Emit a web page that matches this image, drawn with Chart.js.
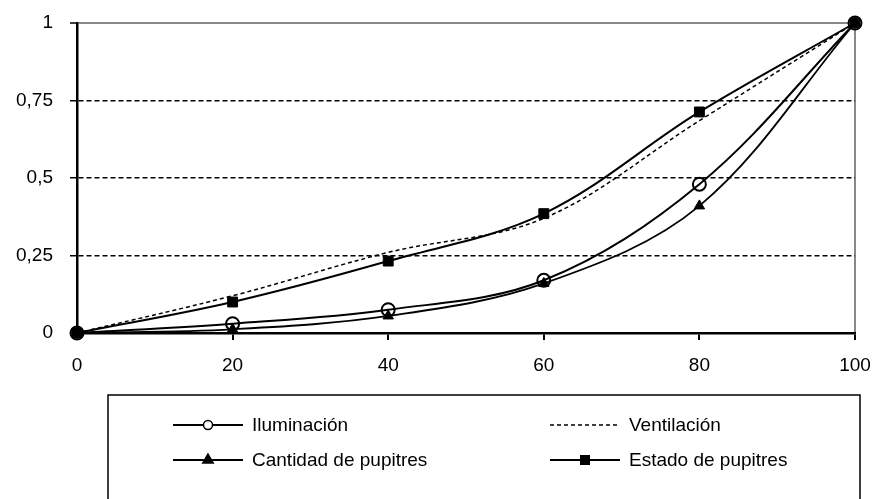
<!DOCTYPE html>
<html>
<head>
<meta charset="utf-8">
<script src="https://cdn.jsdelivr.net/npm/chart.js@4.4.1/dist/chart.umd.min.js"></script>
<style>
  html, body { margin: 0; padding: 0; background: #fff; }
  #wrap { width: 879px; height: 499px; }
</style>
</head>
<body>
<div id="wrap"><canvas id="chart" width="879" height="499"></canvas></div>
<script>
const xValues = [0, 20, 40, 60, 80, 100];
const yTicks = [0, 0.25, 0.5, 0.75, 1];

const iluminacion = [0, 0.03, 0.075, 0.17, 0.48, 1];
const ventilacion = [0, 0.12, 0.26, 0.37, 0.685, 1];
const cantidadPupitres = [0, 0.012, 0.055, 0.16, 0.41, 1];
const estadoPupitres = [0, 0.10, 0.232, 0.385, 0.713, 1];

const seriesNames = ["Iluminación", "Ventilación", "Cantidad de pupitres", "Estado de pupitres"];

function toPoints(arr) {
    return xValues.map((x, i) => ({ x: x, y: arr[i] }));
}

const FONT = "'Liberation Sans', Arial, sans-serif";
const FONT_SIZE = 19;

// legend drawn as a boxed 2x2 grid under the plot
const boxLegend = {
    id: "boxLegend",
    afterDraw(chart) {
        const ctx = chart.ctx;
        const area = chart.chartArea;
        const left = area.left + 31;
        const top = 395;
        const right = area.right + 5;
        ctx.save();
        ctx.strokeStyle = "#000";
        ctx.lineWidth = 1.5;
        ctx.strokeRect(left, top, right - left, 130);

        const cols = [area.left + 96, area.left + 473];
        const rows = [425, 460];
        ctx.font = FONT_SIZE + "px " + FONT;
        ctx.textBaseline = "middle";
        chart.data.datasets.forEach((ds, k) => {
            const x0 = cols[k % 2];
            const y = rows[Math.floor(k / 2)];
            const len = 70;
            ctx.beginPath();
            ctx.setLineDash(ds.borderDash || []);
            ctx.lineWidth = ds.borderWidth;
            ctx.strokeStyle = "#000";
            ctx.moveTo(x0, y);
            ctx.lineTo(x0 + len, y);
            ctx.stroke();
            ctx.setLineDash([]);
            if (ds.pointRadius > 0) {
                ctx.fillStyle = ds.pointStyle === "circle" ? "#fff" : "#000";
                ctx.strokeStyle = "#000";
                ctx.lineWidth = 1.5;
                Chart.helpers.drawPoint(ctx, {
                    pointStyle: ds.pointStyle,
                    rotation: 0,
                    radius: ds.pointStyle === "circle" ? 4.5 : 6,
                    borderWidth: 1.5
                }, x0 + len / 2, y);
            }
            ctx.fillStyle = "#000";
            ctx.fillText(ds.label, x0 + len + 9, y + 1);
        });
        ctx.restore();
    }
};

const chart = new Chart(document.getElementById("chart"), {
    type: "line",
    data: {
        datasets: [
            {
                label: seriesNames[0],
                data: toPoints(iluminacion),
                borderColor: "#000",
                borderWidth: 2,
                pointStyle: "circle",
                pointRadius: 6.5,
                pointBorderWidth: 2,
                pointBackgroundColor: "rgba(255,255,255,0)",
                pointBorderColor: "#000",
                tension: 0.35,
                clip: false,
                order: 0
            },
            {
                label: seriesNames[1],
                data: toPoints(ventilacion),
                borderColor: "#000",
                borderWidth: 1.5,
                borderDash: [4, 3],
                pointRadius: 0,
                tension: 0.35,
                clip: false,
                order: 2
            },
            {
                label: seriesNames[2],
                data: toPoints(cantidadPupitres),
                borderColor: "#000",
                borderWidth: 1.8,
                pointStyle: "triangle",
                pointRadius: 6,
                pointBorderWidth: 1,
                pointBackgroundColor: "#000",
                pointBorderColor: "#000",
                tension: 0.35,
                clip: false,
                order: 2
            },
            {
                label: seriesNames[3],
                data: toPoints(estadoPupitres),
                borderColor: "#000",
                borderWidth: 2,
                pointStyle: "rect",
                pointRadius: 7,
                pointBorderWidth: 1,
                pointBackgroundColor: "#000",
                pointBorderColor: "#000",
                tension: 0.35,
                clip: false,
                order: 1
            }
        ]
    },
    options: {
        responsive: false,
        animation: false,
        devicePixelRatio: 1,
        layout: { padding: { left: 0, top: 23, right: 24, bottom: 126 } },
        plugins: {
            legend: { display: false },
            tooltip: { enabled: false }
        },
        scales: {
            x: {
                type: "linear",
                min: 0,
                max: 100,
                afterBuildTicks: (scale) => { scale.ticks = xValues.map(v => ({ value: v })); },
                afterFit: (scale) => {
                    scale.height = 40;
                    scale.paddingLeft = 0;
                    scale.paddingRight = 0;
                },
                ticks: {
                    color: "#000",
                    font: { family: FONT, size: FONT_SIZE },
                    padding: 14,
                    maxRotation: 0
                },
                grid: {
                    color: (c) => (c.tick && c.tick.value === 100 ? "#888" : "rgba(0,0,0,0)"),
                    lineWidth: 2,
                    tickColor: "#000",
                    tickLength: 7,
                    tickWidth: 2
                },
                border: { color: "#000", width: 2.5 }
            },
            y: {
                min: 0,
                max: 1,
                afterBuildTicks: (scale) => { scale.ticks = yTicks.map(v => ({ value: v })); },
                afterFit: (scale) => {
                    scale.width = 77;
                    scale.paddingTop = 0;
                    scale.paddingBottom = 0;
                },
                ticks: {
                    color: "#000",
                    font: { family: FONT, size: FONT_SIZE },
                    padding: 17,
                    callback: (v) => String(v).replace(".", ",")
                },
                grid: {
                    color: (c) => {
                        if (!c.tick || c.tick.value === 0) return "rgba(0,0,0,0)";
                        return c.tick.value === 1 ? "#888" : "#000";
                    },
                    lineWidth: (c) => (c.tick && c.tick.value === 1 ? 2 : 1.5),
                    tickColor: "#000",
                    tickLength: 7,
                    tickWidth: 1.5
                },
                border: {
                    color: "#000",
                    width: 2.5,
                    dash: (c) => (c.tick && c.tick.value > 0 && c.tick.value < 1 ? [5, 3] : [])
                }
            }
        }
    },
    plugins: [boxLegend]
});
</script>
</body>
</html>
